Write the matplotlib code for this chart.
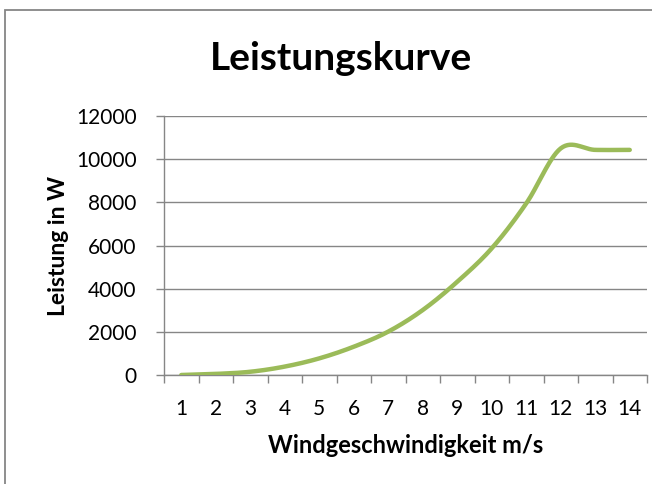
import numpy as np
import matplotlib
matplotlib.use("Agg")
import matplotlib.pyplot as plt
from matplotlib.patches import Rectangle

# data
wind_speed = [1, 2, 3, 4, 5, 6, 7, 8, 9, 10, 11, 12, 13, 14]
power_w = [0, 50, 150, 390, 770, 1310, 2010, 3010, 4320, 5870, 7950, 10500, 10430, 10430]
y_ticks = [0, 2000, 4000, 6000, 8000, 10000, 12000]

LINE = "#9BBB59"
GRID = "#868686"
FONT = "Lato"


def smooth(xs, ys, n=30):
    # Catmull-Rom curve through the points, like Excel's smoothed line
    xs = np.asarray(xs, float)
    ys = np.asarray(ys, float)
    px = np.concatenate([[xs[0]], xs, [xs[-1]]])
    py = np.concatenate([[ys[0]], ys, [ys[-1]]])
    out_x, out_y = [], []
    for i in range(1, len(px) - 2):
        t = np.linspace(0, 1, n, endpoint=False)
        for p, o in ((px, out_x), (py, out_y)):
            p0, p1, p2, p3 = p[i - 1], p[i], p[i + 1], p[i + 2]
            o.extend(0.5 * (2 * p1 + (-p0 + p2) * t
                            + (2 * p0 - 5 * p1 + 4 * p2 - p3) * t ** 2
                            + (-p0 + 3 * p1 - 3 * p2 + p3) * t ** 3))
    out_x.append(xs[-1])
    out_y.append(ys[-1])
    return np.array(out_x), np.array(out_y)


fig = plt.figure(figsize=(6.52, 4.84), dpi=100)
ax = fig.add_axes([164 / 652, 1 - 375 / 484, (647 - 164) / 652, (375 - 116) / 484])

sx, sy = smooth(wind_speed, power_w)
ax.plot(sx, sy, color=LINE, lw=3.2, solid_capstyle="round", zorder=3)

ax.set_xlim(0.5, 14.5)
ax.set_ylim(0, 12000)
ax.set_yticks(y_ticks)
ax.set_yticklabels([str(v) for v in y_ticks], fontsize=15, family=FONT)
ax.set_xticks(wind_speed)
ax.set_xticklabels([str(v) for v in wind_speed], fontsize=15, family=FONT)
ax.set_xticks(np.arange(0.5, 15.0, 1.0), minor=True)
ax.tick_params(axis="x", which="major", length=0, pad=17)
ax.tick_params(axis="x", which="minor", length=5.8, color=GRID, width=1)
ax.tick_params(axis="y", length=5.8, color=GRID, width=1, pad=14)

ax.grid(axis="y", color=GRID, lw=1)
ax.set_axisbelow(True)
for side in ("top", "right"):
    ax.spines[side].set_visible(False)
for side in ("left", "bottom"):
    ax.spines[side].set_color(GRID)
    ax.spines[side].set_linewidth(1)

ax.set_xlabel("Windgeschwindigkeit m/s", fontsize=17, fontweight="bold", family=FONT, labelpad=11)
ax.set_ylabel("Leistung in W", fontsize=16.5, fontweight="bold", family=FONT, labelpad=5)
fig.text(341 / 652, 1 - 59 / 484, "Leistungskurve", ha="center", va="center",
         fontsize=28, fontweight="bold", family=FONT)

# outer chart frame (right and bottom edges fall outside the image)
fig.patches.append(Rectangle((5 / 652, -0.05), 1.1, 1.05 - 10 / 484,
                             transform=fig.transFigure, fill=False,
                             edgecolor=GRID, lw=1.3))

fig.savefig("out.png", dpi=100)
